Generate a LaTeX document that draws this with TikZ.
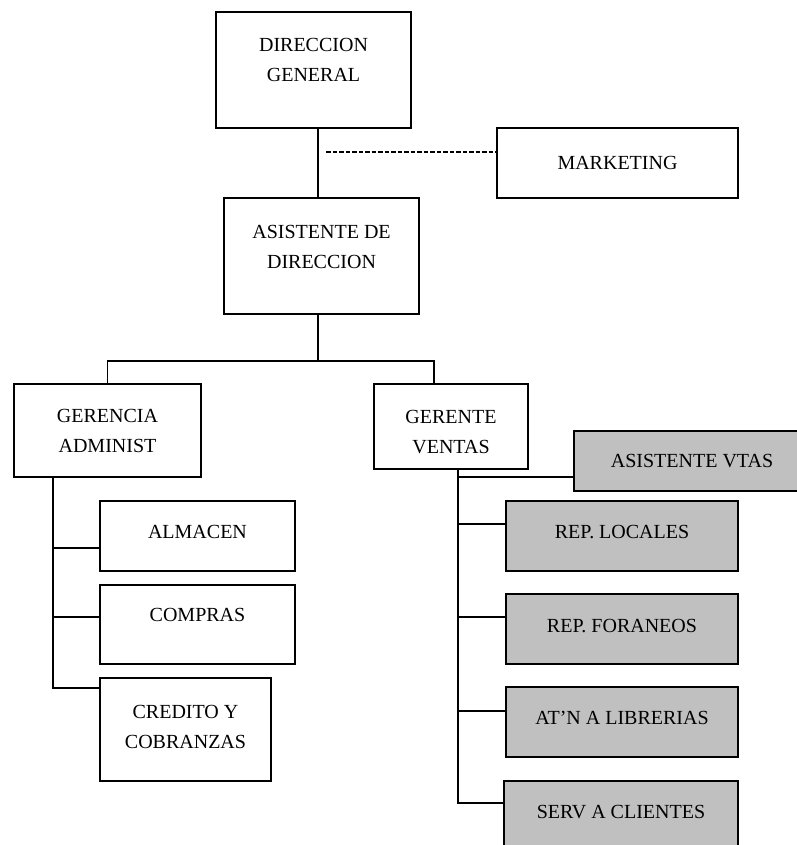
\documentclass[tikz,border=0pt]{standalone}
\usepackage{fontspec}
\setmainfont{Liberation Serif}
\definecolor{vtasgray}{RGB}{192,192,192}
\usetikzlibrary{positioning,calc}

\begin{document}
\begin{tikzpicture}[
      x=1pt, y=1pt,
      box/.style={draw, line width=1.1pt, fill=white, align=center, inner sep=0pt, outer sep=0pt, font=\fontsize{20}{30}\selectfont},
      graybox/.style={box, fill=vtasgray},
      link/.style={line width=1.1pt},
      dashlink/.style={line width=2.4pt, dash pattern=on 4.5pt off 2pt}
    ]
      \useasboundingbox (0,0) rectangle (796,-845);

      % Direccion
      \node[box, minimum width=195pt, minimum height=116pt, text depth=20pt] (dg) at (313.5,-70) {DIRECCION\\GENERAL};
      \node[box, minimum width=241pt, minimum height=70pt, below right=0pt and 86pt of dg.south east] (mkt) {MARKETING};
      \node[box, minimum width=195pt, minimum height=116pt, text depth=18pt, below=70pt of dg, xshift=8pt] (asd) {ASISTENTE DE\\DIRECCION};

      \coordinate (trunk) at ([xshift=4.5pt]dg.south);
      \coordinate (bus) at ([yshift=-47pt]asd.south -| trunk);
      \coordinate (dashstart) at ($(mkt.west -| trunk)+(8pt,11pt)$);
      \draw[link] (trunk) -- (trunk |- asd.north);
      \draw[dashlink] (dashstart) -- (dashstart -| mkt.west);

      % Gerencias
      \node[box, minimum width=187pt, minimum height=93pt, below left=70pt and 23pt of asd.south west] (gad) {GERENCIA\\ADMINIST};
      \node[box, minimum width=154pt, minimum height=85pt, below right=70pt and -45pt of asd.south east] (gve) {\rule{0pt}{24pt}GERENTE\\VENTAS};

      \draw[link] (asd.south -| trunk) -- (bus);
      \draw[link] (gad.north) |- (bus) -| ([xshift=-17pt]gve.north);

      % Administracion
      \node[box, minimum width=195pt, minimum height=70pt, text depth=9pt, below right=24pt and 86pt of gad.south west] (alm) {ALMACEN};
      \node[box, minimum width=195pt, minimum height=79pt, text depth=19pt, below=14pt of alm] (com) {COMPRAS};
      \node[box, minimum width=171pt, minimum height=103pt, text depth=6pt, below right=14pt and 0pt of com.south west] (cre) {CREDITO Y\\COBRANZAS};

      \coordinate (lspine) at ([xshift=39pt]gad.south west);
      \draw[link] (lspine) |- ([yshift=-12pt]alm.west);
      \draw[link] (lspine) |- ([yshift=7.5pt]com.west);
      \draw[link] (lspine) |- ([yshift=-10pt]cre.north west);

      % Ventas
      \node[graybox, minimum width=236pt, minimum height=60pt, below right=47pt and 46pt of gve.north east] (avt) {ASISTENTE VTAS};
      \node[graybox, minimum width=232pt, minimum height=70pt, text depth=8pt, right=211pt of alm] (rlo) {REP. LOCALES};
      \node[graybox, minimum width=232pt, minimum height=70pt, text depth=6pt, below=23pt of rlo] (rfo) {REP. FORANEOS};
      \node[graybox, minimum width=232pt, minimum height=70pt, text depth=8pt, below=23pt of rfo] (atn) {AT’N A LIBRERIAS};
      \node[graybox, minimum width=234pt, minimum height=80pt, text depth=18pt, below=24pt of atn, xshift=-1pt] (scl) {SERV A CLIENTES};

      \coordinate (rspine) at ([xshift=7pt]gve.south);
      \draw[link] (rspine) |- ([yshift=-16pt]avt.west);
      \draw[link] (rspine) |- ([yshift=12pt]rlo.west);
      \draw[link] (rspine) |- ([yshift=12pt]rfo.west);
      \draw[link] (rspine) |- ([yshift=11pt]atn.west);
      \draw[link] (rspine) |- ([yshift=-22pt]scl.north west);
    \end{tikzpicture}
\end{document}
